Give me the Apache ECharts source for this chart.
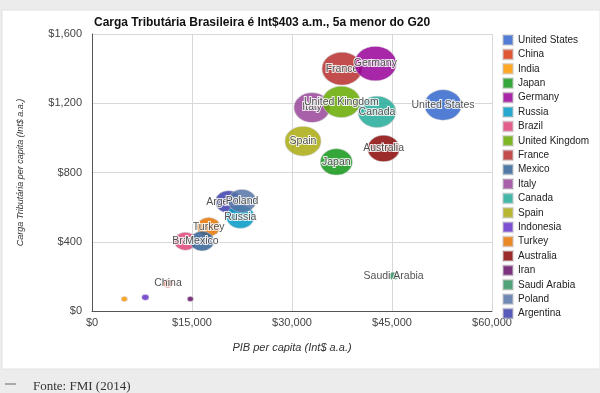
<!DOCTYPE html>
<html>
<head>
<meta charset="utf-8">
<script src="https://cdn.jsdelivr.net/npm/echarts@6/dist/echarts.min.js"></script>
<style>html,body{margin:0;padding:0;background:#ececec;}#c{width:600px;height:393px;}</style>
</head>
<body>
<div id="c"></div>
<script>
// Data
var countries = ['United States','China','India','Japan','Germany','Russia','Brazil','United Kingdom','France','Mexico','Italy','Canada','Spain','Indonesia','Turkey','Australia','Iran','Saudi Arabia','Poland','Argentina'];
var gdpPerCapita = [52650, 11400, 4850, 36650, 42500, 22250, 14000, 37400, 37500, 16500, 33000, 42750, 31650, 8000, 17500, 43740, 14750, 45240, 22500, 20500];
var taxPerCapita = [1190, 160, 69, 861, 1429, 544, 403, 1208, 1400, 404, 1175, 1150, 981, 79, 486, 939, 69, 202, 636, 631];
var bubbleValue = [37, 10, 6, 32, 42, 28, 22, 38, 40, 24, 36, 38, 36, 7, 23, 32, 6, 9, 28, 27];
var showLabel = [true, true, false, true, true, true, true, true, true, true, true, true, true, false, true, true, false, true, true, true];
var colors = ['#3366cc','#dc3912','#ff9900','#109618','#990099','#0099c6','#dd4477','#66aa00','#b82e2e','#316395','#994499','#22aa99','#aaaa11','#6633cc','#e67300','#8b0707','#651067','#329262','#5574a6','#3b3eac'];
var xTicks = [0, 15000, 30000, 45000, 60000];
var yTicks = [0, 400, 800, 1200, 1600];
var titleText = 'Carga Tributária Brasileira é Int$403 a.m., 5a menor do G20';
var xName = 'PIB per capita (Int$ a.a.)';
var yName = 'Carga Tributária per capita (Int$ a.a.)';
var sourceText = 'Fonte: FMI (2014)';

function money(v){ return '$' + v.toLocaleString('en-US'); }

var series = countries.map(function(name, i){
  return {
    name: name,
    type: 'scatter',
    z: 2 + bubbleValue[i] / 10,
    data: [[gdpPerCapita[i], taxPerCapita[i], bubbleValue[i]]],
    symbolSize: function(v){ return [v[2], v[2] * 0.82]; },
    itemStyle: { color: colors[i], opacity: 0.85, borderColor: 'rgba(200,200,200,0.6)', borderWidth: 1 },
    label: {
      show: showLabel[i], position: 'inside', formatter: name,
      color: '#333', fontSize: 10.5, fontFamily: 'Liberation Sans, Arial',
      textBorderColor: '#fff', textBorderWidth: 2
    },
    emphasis: { disabled: true }
  };
});

var chart = echarts.init(document.getElementById('c'));
chart.setOption({
  animation: false,
  backgroundColor: '#ececec',
  color: colors,
  textStyle: { fontFamily: 'Liberation Sans, Arial' },
  graphic: [
    { type: 'rect', z: -10, shape: { x: 2, y: 10, width: 598, height: 359 }, style: { fill: '#ffffff', stroke: '#e2e2e2' } },
    { type: 'line', shape: { x1: 5, y1: 384, x2: 16, y2: 384 }, style: { stroke: '#666', lineWidth: 1 } },
    { type: 'text', left: 33, top: 380, style: { text: sourceText, font: '13px "Liberation Serif", serif', fill: '#333' } }
  ],
  title: {
    text: titleText, left: 89, top: 12,
    textStyle: { fontSize: 12, fontWeight: 'bold', color: '#111', fontFamily: 'Liberation Sans, Arial' }
  },
  legend: {
    orient: 'vertical', left: 502, top: 34, padding: 0,
    itemWidth: 10, itemHeight: 10, itemGap: 2.4, icon: 'rect',
    textStyle: { fontSize: 10, color: '#222', lineHeight: 10 },
    data: countries
  },
  grid: { left: 92, right: 108, top: 34, bottom: 82 },
  xAxis: {
    type: 'value', min: xTicks[0], max: xTicks[xTicks.length-1], interval: xTicks[1]-xTicks[0],
    name: xName, nameLocation: 'middle', nameGap: 31,
    nameTextStyle: { fontStyle: 'italic', fontSize: 11, color: '#333' },
    axisLine: { show: true, lineStyle: { color: '#555' } },
    axisTick: { show: false },
    axisLabel: { formatter: money, color: '#444', fontSize: 11, margin: 6 },
    splitLine: { lineStyle: { color: '#d8d8d8' } }
  },
  yAxis: {
    type: 'value', min: yTicks[0], max: yTicks[yTicks.length-1], interval: yTicks[1]-yTicks[0],
    name: yName, nameLocation: 'middle', nameGap: 67,
    nameTextStyle: { fontStyle: 'italic', fontSize: 9, color: '#333' },
    axisLine: { show: true, lineStyle: { color: '#555' } },
    axisTick: { show: false },
    axisLabel: { formatter: money, color: '#444', fontSize: 11, margin: 10 },
    splitLine: { lineStyle: { color: '#d8d8d8' } }
  },
  series: series
});
</script>
</body>
</html>
